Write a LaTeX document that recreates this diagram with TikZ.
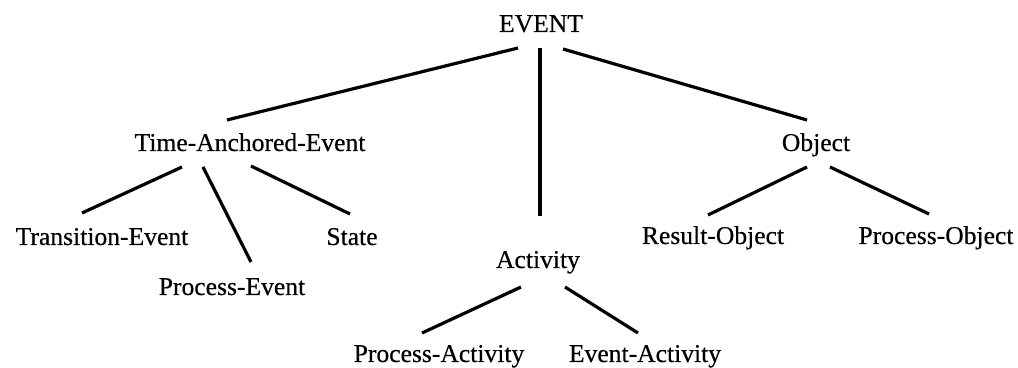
\documentclass[tikz,border=0pt]{standalone}
\usepackage{fontspec}
\setmainfont{Liberation Serif}[FakeBold=0.4]
\newfontfamily\epais{Liberation Serif}[FakeBold=0.4]
\usepackage{tikz}

\begin{document}
\begin{tikzpicture}[x=0.5pt,y=-0.5pt,
    mot/.style={anchor=base, inner sep=0pt, font=\epais\fontsize{12.8}{15}\selectfont},
    branche/.style={line width=1.6pt}]
    \useasboundingbox (0,0) rectangle (1018,368);
    % les types
    \node[mot] (event) at (541,32) {EVENT};
    \node[mot] (tae) at (250,151) {Time-Anchored-Event};
    \node[mot] (obj) at (816,151) {Object};
    \node[mot] (trans) at (102,245) {Transition-Event};
    \node[mot] (pevent) at (232,295) {Process-Event};
    \node[mot] (state) at (352,245) {State};
    \node[mot] (act) at (538,268) {Activity};
    \node[mot] (result) at (713,244) {Result-Object};
    \node[mot] (pobj) at (936,244) {Process-Object};
    \node[mot] (pact) at (439,362) {Process-Activity};
    \node[mot] (eact) at (645,362) {Event-Activity};
    % les branches
\begin{scope}[branche]
    \draw ([shift={(-23,16)}]event.base) -- ([shift={(-23,-31)}]tae.base);
    \draw ([shift={(-1,16)}]event.base) -- ([shift={(2,-52)}]act.base);
    \draw ([shift={(22,17)}]event.base) -- ([shift={(-9,-31)}]obj.base);
    \draw ([shift={(-68,16)}]tae.base) -- ([shift={(-20,-32)}]trans.base);
    \draw ([shift={(-47,16)}]tae.base) -- ([shift={(19,-33)}]pevent.base);
    \draw ([shift={(1,15)}]tae.base) -- ([shift={(-2,-31)}]state.base);
    \draw ([shift={(-9,16)}]obj.base) -- ([shift={(-5,-29)}]result.base);
    \draw ([shift={(14,16)}]obj.base) -- ([shift={(-7,-30)}]pobj.base);
    \draw ([shift={(-17,19)}]act.base) -- ([shift={(-17,-29)}]pact.base);
    \draw ([shift={(27,19)}]act.base) -- ([shift={(-7,-29)}]eact.base);
\end{scope}
\end{tikzpicture}
\end{document}
